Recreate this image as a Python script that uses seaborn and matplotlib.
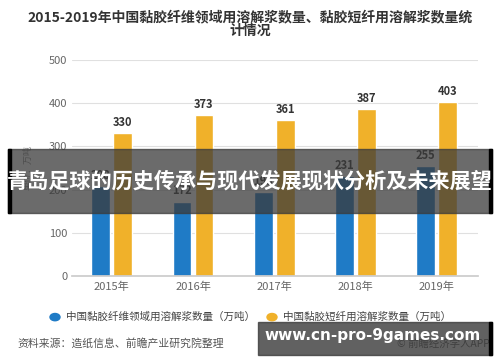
import pandas as pd
import seaborn as sns
import matplotlib.pyplot as plt
from matplotlib.patches import Rectangle

years = ["2015年", "2016年", "2017年", "2018年", "2019年"]
viscose_fiber = [208, 172, 195, 231, 255]
viscose_staple = [330, 373, 361, 387, 403]
series_names = ["中国黏胶纤维领域用溶解浆数量（万吨）", "中国黏胶短纤用溶解浆数量（万吨）"]
y_ticks = [0, 100, 200, 300, 400, 500]

df = pd.DataFrame({
    "year": years * 2,
    "value": viscose_fiber + viscose_staple,
    "series": [series_names[0]] * 5 + [series_names[1]] * 5,
})

sns.set_theme(style="white")
plt.rcParams['font.family'] = ['Noto Sans CJK SC', 'DejaVu Sans']

colors = ["#1f7bc6", "#f0b12a"]
fig = plt.figure(figsize=(5, 3.62), dpi=100)
ax = fig.add_axes([0.144, 0.238, 0.812, 0.596])
sns.barplot(data=df, x="year", y="value", hue="series", palette=colors,
            width=0.54, gap=0.14, ax=ax, legend=False, saturation=1)

for cont in ax.containers:
    ax.bar_label(cont, padding=3, fontsize=8, fontweight="bold", color="#333333")

ax.set_ylim(0, 500)
ax.set_yticks(y_ticks)
ax.set_xlim(-0.49, 4.51)
ax.yaxis.grid(True, color="#e0e0e0", linewidth=0.8)
ax.set_axisbelow(True)
for s in ["top", "right", "left"]:
    ax.spines[s].set_visible(False)
ax.spines["bottom"].set_color("#cccccc")
ax.tick_params(axis="both", labelsize=8, colors="#666666", length=0)
ax.tick_params(axis="x", pad=4)
ax.set_xlabel("")
ax.set_ylabel("单位：万吨", fontsize=6.5, color="#888888", labelpad=12)

fig.text(0.5, 0.953, "2015-2019年中国黏胶纤维领域用溶解浆数量、黏胶短纤用溶解浆数量统",
         ha="center", va="center", fontsize=10, fontweight="bold", color="#333333")
fig.text(0.5, 0.915, "计情况", ha="center", va="center", fontsize=10,
         fontweight="bold", color="#333333")

# legend
for cx, tx, c, name in [(0.11, 0.132, colors[0], series_names[0]),
                        (0.544, 0.566, colors[1], series_names[1])]:
    fig.patches.append(plt.Circle((cx, 0.124), 0.01, transform=fig.transFigure,
                                  color=c, figure=fig))
    fig.text(tx, 0.124, name, ha="left", va="center", fontsize=7.6, color="#444444")

fig.text(0.034, 0.05, "资料来源：造纸信息、前瞻产业研究院整理", ha="left", va="center",
         fontsize=7.8, color="#555555")
fig.text(0.98, 0.05, "© 前瞻经济学人APP", ha="right", va="center",
         fontsize=7.5, color="#555555")

# overlay banner
fig.patches.append(Rectangle((0.016, 0.412), 0.968, 0.177, transform=fig.transFigure,
                             color="#3a3a3a", alpha=0.75, figure=fig, zorder=5))
fig.patches.append(Rectangle((0.016, 0.412), 0.005, 0.177, transform=fig.transFigure,
                             color="black", figure=fig, zorder=5))
fig.patches.append(Rectangle((0.978, 0.412), 0.006, 0.177, transform=fig.transFigure,
                             color="black", figure=fig, zorder=5))
fig.text(0.5, 0.5, "青岛足球的历史传承与现代发展现状分析及未来展望", ha="center", va="center",
         fontsize=15.2, fontweight="bold", color="white", zorder=6)

# url box
fig.patches.append(Rectangle((0.516, 0.019), 0.468, 0.092, transform=fig.transFigure,
                             color="#3a3a3a", alpha=0.8, figure=fig, zorder=5))
fig.patches.append(Rectangle((0.978, 0.019), 0.006, 0.092, transform=fig.transFigure,
                             color="black", figure=fig, zorder=5))
fig.text(0.745, 0.072, "www.cn-pro-9games.com", ha="center", va="center",
         fontsize=11, fontweight="bold", color="white", family="DejaVu Sans", zorder=6)

fig.savefig("out.png", dpi=100)
